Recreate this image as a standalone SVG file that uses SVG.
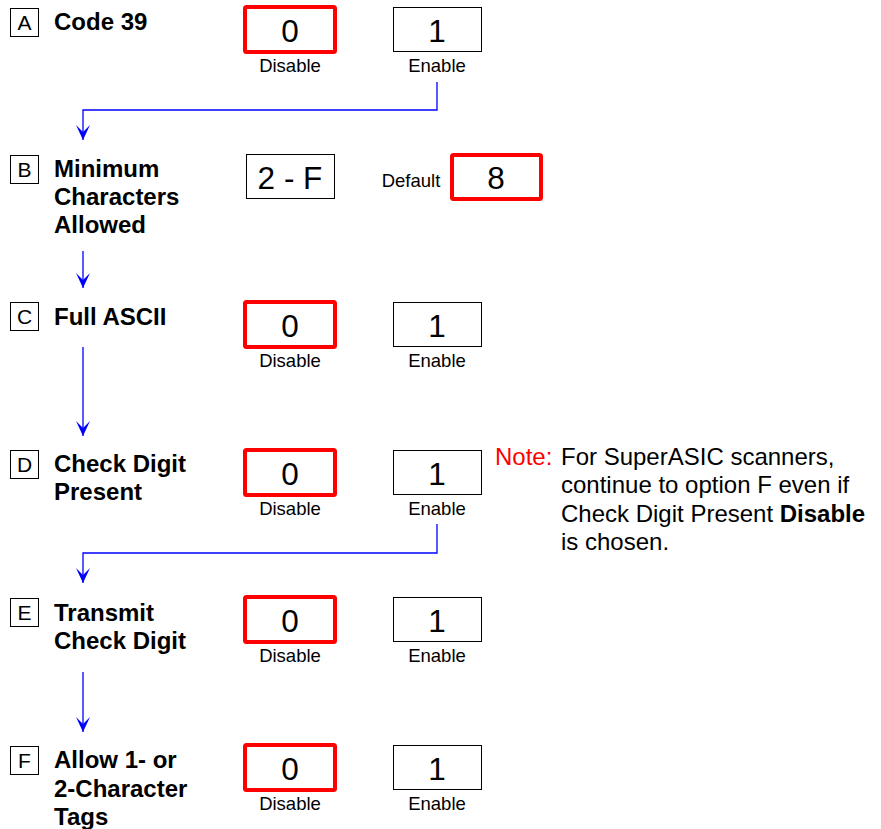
<svg xmlns="http://www.w3.org/2000/svg" width="881" height="829" viewBox="0 0 881 829">
<style>
text{font-family:"Liberation Sans",Arial,sans-serif;fill:#000}
.lb{fill:#fff;stroke:#000;stroke-width:1}
.letter{font-size:21px;text-anchor:middle}
.title{font-size:24px;font-weight:bold}
.sel{fill:#fff;stroke:#f00;stroke-width:4}
.opt{fill:#fff;stroke:#000;stroke-width:1}
.val{font-size:31.5px;text-anchor:middle}
.cap{font-size:18.5px;text-anchor:middle}
.con{fill:none;stroke:#0000ff;stroke-width:1.3}
.note{font-size:24px}
</style>
<defs>
<marker id="ah" markerUnits="userSpaceOnUse" markerWidth="18" markerHeight="18" viewBox="-16 -9 18 18" refX="0" refY="0" orient="auto">
<path d="M0,0 L-15,-7 L-8,0 L-15,7 Z" fill="#0000ff"/>
</marker>
</defs>

<g id="connectors">
<path class="con" d="M437,82 V110 H83 V140" marker-end="url(#ah)"/>
<path class="con" d="M83,251 V288" marker-end="url(#ah)"/>
<path class="con" d="M83,347 V436" marker-end="url(#ah)"/>
<path class="con" d="M437,524 V553 H83 V583" marker-end="url(#ah)"/>
<path class="con" d="M83,672 V732" marker-end="url(#ah)"/>
</g>

<g id="nodeA">
<rect class="lb" x="10.5" y="8.5" width="28" height="28"/>
<text class="letter" x="24.5" y="30">A</text>
<text class="title" x="54" y="30">Code 39</text>
<rect class="sel" x="245" y="7" width="90" height="45" rx="1.5"/>
<text class="val" x="290" y="42">0</text>
<text class="cap" x="290" y="72">Disable</text>
<rect class="opt" x="393.5" y="7.5" width="88" height="44"/>
<text class="val" x="437" y="42">1</text>
<text class="cap" x="437" y="72">Enable</text>
</g>

<g id="nodeB">
<rect class="lb" x="10.5" y="155.5" width="28" height="28"/>
<text class="letter" x="24.5" y="177">B</text>
<text class="title" x="54" y="177">Minimum</text>
<text class="title" x="54" y="205">Characters</text>
<text class="title" x="54" y="233">Allowed</text>
<rect class="opt" x="246.5" y="154.5" width="88" height="44"/>
<text class="val" x="290" y="189">2 - F</text>
<text class="cap" x="411" y="187">Default</text>
<rect class="sel" x="452" y="155" width="89" height="44" rx="1.5"/>
<text class="val" x="496" y="189">8</text>
</g>

<g id="nodeC">
<rect class="lb" x="10.5" y="302.5" width="28" height="28"/>
<text class="letter" x="24.5" y="324">C</text>
<text class="title" x="54" y="325">Full ASCII</text>
<rect class="sel" x="245" y="302" width="90" height="45" rx="1.5"/>
<text class="val" x="290" y="337">0</text>
<text class="cap" x="290" y="367">Disable</text>
<rect class="opt" x="393.5" y="302.5" width="88" height="44"/>
<text class="val" x="437" y="337">1</text>
<text class="cap" x="437" y="367">Enable</text>
</g>

<g id="nodeD">
<rect class="lb" x="10.5" y="450.5" width="28" height="28"/>
<text class="letter" x="24.5" y="472">D</text>
<text class="title" x="54" y="472">Check Digit</text>
<text class="title" x="54" y="500">Present</text>
<rect class="sel" x="245" y="450" width="90" height="45" rx="1.5"/>
<text class="val" x="290" y="485">0</text>
<text class="cap" x="290" y="515">Disable</text>
<rect class="opt" x="393.5" y="450.5" width="88" height="44"/>
<text class="val" x="437" y="485">1</text>
<text class="cap" x="437" y="515">Enable</text>
</g>

<g id="note">
<text class="note" x="495" y="465" style="fill:#f00">Note:</text>
<text class="note" x="561" y="465">For SuperASIC scanners,</text>
<text class="note" x="561" y="493">continue to option F even if</text>
<text class="note" x="561" y="522">Check Digit Present <tspan font-weight="bold">Disable</tspan></text>
<text class="note" x="561" y="550">is chosen.</text>
</g>

<g id="nodeE">
<rect class="lb" x="10.5" y="598.5" width="28" height="28"/>
<text class="letter" x="24.5" y="620">E</text>
<text class="title" x="54" y="621">Transmit</text>
<text class="title" x="54" y="649">Check Digit</text>
<rect class="sel" x="245" y="597" width="90" height="45" rx="1.5"/>
<text class="val" x="290" y="632">0</text>
<text class="cap" x="290" y="662">Disable</text>
<rect class="opt" x="393.5" y="597.5" width="88" height="44"/>
<text class="val" x="437" y="632">1</text>
<text class="cap" x="437" y="662">Enable</text>
</g>

<g id="nodeF">
<rect class="lb" x="10.5" y="746.5" width="28" height="28"/>
<text class="letter" x="24.5" y="768">F</text>
<text class="title" x="54" y="768">Allow 1- or</text>
<text class="title" x="54" y="797">2-Character</text>
<text class="title" x="54" y="825">Tags</text>
<rect class="sel" x="245" y="745" width="90" height="45" rx="1.5"/>
<text class="val" x="290" y="780">0</text>
<text class="cap" x="290" y="810">Disable</text>
<rect class="opt" x="393.5" y="745.5" width="88" height="44"/>
<text class="val" x="437" y="780">1</text>
<text class="cap" x="437" y="810">Enable</text>
</g>
</svg>
